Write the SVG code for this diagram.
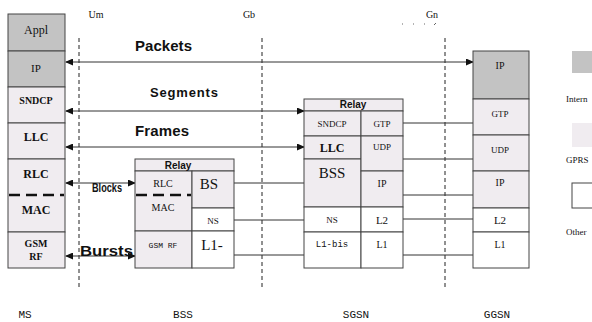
<svg xmlns="http://www.w3.org/2000/svg" width="592" height="322" viewBox="0 0 592 322">
<defs>
<style>
.g{fill:#c3c3c3;stroke:#444;stroke-width:1}
.p{fill:#f0ecf0;stroke:#444;stroke-width:1}
.w{fill:#fff;stroke:#444;stroke-width:1}
.sep{stroke:#555;stroke-width:1.3;fill:none}
.dash{stroke:#111;stroke-width:2.5;stroke-dasharray:11 6;fill:none}
.vd{stroke:#222;stroke-width:1;stroke-dasharray:4 3;fill:none}
.ln{stroke:#333;stroke-width:1;fill:none}
.t{font-family:"Liberation Serif",serif;fill:#111;text-anchor:middle}
.b{font-weight:bold}
.m{font-family:"Liberation Mono",monospace;fill:#111;text-anchor:middle}
.h{font-family:"Liberation Sans",Arial,sans-serif;font-weight:bold;fill:#111}
.lg{font-family:"Liberation Serif",serif;fill:#111;font-size:9px}
</style>
<marker id="ah" markerWidth="8" markerHeight="7" refX="7" refY="3.5" orient="auto-start-reverse" markerUnits="userSpaceOnUse">
<path d="M0,0 L8,3.5 L0,7 Z" fill="#111"/>
</marker>
</defs>
<rect width="592" height="322" fill="#fff"/>

<g id="interfaces">
<line class="vd" x1="79" y1="38" x2="79" y2="289"/>
<line class="vd" x1="262" y1="38" x2="262" y2="289"/>
<line class="vd" x1="445" y1="38" x2="445" y2="289"/>
<text class="t" x="96" y="18" font-size="10">Um</text>
<text class="t" x="249" y="18" font-size="10">Gb</text>
<text class="t" x="432" y="18" font-size="10">Gn</text>
<path d="M402,24h1 M413,24h1 M424,24h1 M434,25l2,-2" stroke="#666" stroke-width="1" fill="none"/>
</g>

<g id="connectors">
<line class="ln" x1="66" y1="62" x2="473" y2="62" marker-start="url(#ah)" marker-end="url(#ah)"/>
<line class="ln" x1="66" y1="111" x2="304" y2="111" marker-start="url(#ah)" marker-end="url(#ah)"/>
<line class="ln" x1="66" y1="147" x2="304" y2="147" marker-start="url(#ah)" marker-end="url(#ah)"/>
<line class="ln" x1="66" y1="183" x2="135" y2="183" marker-start="url(#ah)" marker-end="url(#ah)"/>
<line class="ln" x1="66" y1="256" x2="135" y2="256" marker-start="url(#ah)" marker-end="url(#ah)"/>
<line class="ln" x1="234" y1="183" x2="304" y2="183"/>
<line class="ln" x1="234" y1="220" x2="304" y2="220"/>
<line class="ln" x1="234" y1="255" x2="304" y2="255"/>
<line class="ln" x1="403" y1="123" x2="473" y2="123"/>
<line class="ln" x1="403" y1="159" x2="473" y2="159"/>
<line class="ln" x1="403" y1="195" x2="473" y2="195"/>
<line class="ln" x1="403" y1="219" x2="473" y2="219"/>
<line class="ln" x1="403" y1="255" x2="473" y2="255"/>
<text class="h" x="135" y="51" font-size="15" textLength="57">Packets</text>
<text class="h" x="150" y="97" font-size="13" textLength="68">Segments</text>
<text class="h" x="135" y="136" font-size="15" textLength="54">Frames</text>
<text class="h" x="92" y="192" font-size="12" textLength="30" lengthAdjust="spacingAndGlyphs">Blocks</text>
<text class="h" x="80" y="256" font-size="15" textLength="53" lengthAdjust="spacingAndGlyphs">Bursts</text>
</g>

<g id="ms">
<rect class="g" x="8" y="14" width="57" height="37"/>
<rect class="g" x="8" y="51" width="57" height="36"/>
<rect class="p" x="8" y="87" width="57" height="36"/>
<rect class="p" x="8" y="123" width="57" height="36"/>
<rect class="p" x="8" y="159" width="57" height="73"/>
<rect class="p" x="8" y="232" width="57" height="36"/>
<line class="dash" x1="9" y1="195" x2="64" y2="195"/>
<text class="t" x="36" y="34" font-size="12">Appl</text>
<text class="t" x="36" y="72" font-size="11">IP</text>
<text class="t b" x="36" y="104" font-size="10">SNDCP</text>
<text class="t b" x="36" y="141" font-size="12">LLC</text>
<text class="t b" x="36" y="178" font-size="12">RLC</text>
<text class="t b" x="36" y="214" font-size="12">MAC</text>
<text class="t b" x="36" y="247" font-size="10">GSM</text>
<text class="t b" x="36" y="260" font-size="10">RF</text>
<text class="m" x="25" y="318" font-size="11">MS</text>
</g>

<g id="bss">
<rect class="p" x="135" y="159" width="99" height="12"/>
<rect class="p" x="135" y="171" width="57" height="60"/>
<rect class="p" x="135" y="231" width="57" height="37"/>
<rect class="p" x="192" y="171" width="42" height="37"/>
<rect class="w" x="192" y="208" width="42" height="23"/>
<rect class="w" x="192" y="231" width="42" height="37"/>
<line class="dash" x1="136" y1="195" x2="191" y2="195"/>
<text class="h" x="178" y="169" font-size="10" text-anchor="middle">Relay</text>
<text class="t" x="163" y="187" font-size="10">RLC</text>
<text class="t" x="209" y="189" font-size="15">BS</text>
<text class="t" x="163" y="211" font-size="10">MAC</text>
<text class="t" x="213" y="224" font-size="9">NS</text>
<text class="m" x="163" y="248" font-size="8">GSM RF</text>
<text class="t" x="212" y="250" font-size="15">L1-</text>
<text class="m" x="183" y="318" font-size="11">BSS</text>
</g>

<g id="sgsn">
<rect class="p" x="304" y="99" width="99" height="12"/>
<rect class="p" x="304" y="111" width="57" height="25"/>
<rect class="p" x="304" y="136" width="57" height="23"/>
<rect class="p" x="304" y="159" width="57" height="48"/>
<rect class="w" x="304" y="207" width="57" height="25"/>
<rect class="w" x="304" y="232" width="57" height="36"/>
<rect class="p" x="361" y="111" width="42" height="25"/>
<rect class="p" x="361" y="136" width="42" height="35"/>
<rect class="p" x="361" y="171" width="42" height="36"/>
<rect class="w" x="361" y="207" width="42" height="25"/>
<rect class="w" x="361" y="232" width="42" height="36"/>
<text class="h" x="353" y="108" font-size="10" text-anchor="middle">Relay</text>
<text class="t" x="332" y="127" font-size="9">SNDCP</text>
<text class="t" x="382" y="127" font-size="9">GTP</text>
<text class="t b" x="332" y="152" font-size="12">LLC</text>
<text class="t" x="382" y="150" font-size="9">UDP</text>
<text class="t" x="332" y="178" font-size="15">BSS</text>
<text class="t" x="382" y="187" font-size="10">IP</text>
<text class="t" x="332" y="223" font-size="9">NS</text>
<text class="t" x="382" y="224" font-size="11">L2</text>
<text class="m" x="332" y="247" font-size="9">L1-bis</text>
<text class="t" x="382" y="248" font-size="10">L1</text>
<text class="m" x="356" y="318" font-size="11">SGSN</text>
</g>

<g id="ggsn">
<rect class="g" x="473" y="51" width="56" height="48"/>
<rect class="p" x="473" y="99" width="56" height="36"/>
<rect class="p" x="473" y="135" width="56" height="36"/>
<rect class="p" x="473" y="171" width="56" height="37"/>
<rect class="w" x="473" y="208" width="56" height="24"/>
<rect class="w" x="473" y="232" width="56" height="36"/>
<text class="t" x="500" y="69" font-size="10">IP</text>
<text class="t" x="500" y="117" font-size="9">GTP</text>
<text class="t" x="500" y="153" font-size="9">UDP</text>
<text class="t" x="500" y="186" font-size="10">IP</text>
<text class="t" x="500" y="224" font-size="11">L2</text>
<text class="t" x="500" y="248" font-size="10">L1</text>
<text class="m" x="497" y="318" font-size="11">GGSN</text>
</g>

<g id="legend">
<rect x="572" y="51" width="30" height="22" fill="#c3c3c3"/>
<text class="lg" x="566" y="102">Intern</text>
<rect x="572" y="123" width="30" height="24" fill="#f0ecf0"/>
<text class="lg" x="566" y="163">GPRS</text>
<rect x="572" y="183" width="30" height="25" fill="#fff" stroke="#444"/>
<text class="lg" x="566" y="235">Other</text>
</g>
</svg>
